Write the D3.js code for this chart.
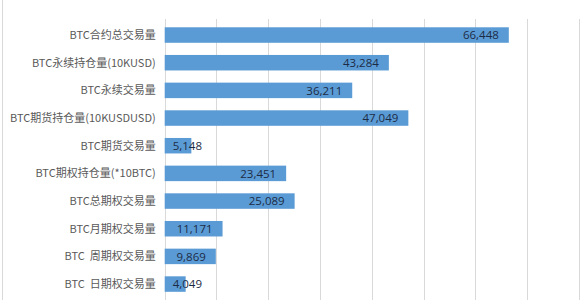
<!DOCTYPE html>
<html>
<head>
<meta charset="utf-8">
<script src="https://cdn.jsdelivr.net/npm/d3@7"></script>
<style>
  html, body { margin: 0; padding: 0; background: #fff; }
  svg { display: block; }
</style>
</head>
<body>
<svg id="chart" width="584" height="300"></svg>
<script>
// Categories (top to bottom) and their values
const categories = [
  "BTC合约总交易量",
  "BTC永续持仓量(10KUSD)",
  "BTC永续交易量",
  "BTC期货持仓量(10KUSDUSD)",
  "BTC期货交易量",
  "BTC期权持仓量(*10BTC)",
  "BTC总期权交易量",
  "BTC月期权交易量",
  "BTC  周期权交易量",
  "BTC  日期权交易量"
];
const values = [66448, 43284, 36211, 47049, 5148, 23451, 25089, 11171, 9869, 4049];
const xTicks = [0, 10000, 20000, 30000, 40000, 50000, 60000, 70000, 80000];

const svg = d3.select("#chart");
const W = 584, H = 300;
const plotLeft = 164.7, plotRight = 579, plotTop = 21.2, plotBottom = 297.9;

// outer frame line on the left edge
svg.append("line")
  .attr("x1", 2.5).attr("x2", 2.5).attr("y1", 0).attr("y2", H)
  .attr("stroke", "#d9d9d9").attr("stroke-width", 1);

const x = d3.scaleLinear().domain([0, 80000]).range([plotLeft, plotRight]);
const y = d3.scaleBand().domain(categories).range([plotTop, plotBottom])
  .paddingInner(0.44).paddingOuter(0.22);

// vertical gridlines
svg.append("g")
  .selectAll("line")
  .data(xTicks)
  .join("line")
  .attr("x1", d => Math.round(x(d)) + 0.5)
  .attr("x2", d => Math.round(x(d)) + 0.5)
  .attr("y1", 19)
  .attr("y2", H)
  .attr("stroke", "#d9d9d9")
  .attr("stroke-width", 1);

// bars
svg.append("g")
  .selectAll("rect")
  .data(values)
  .join("rect")
  .attr("x", x(0))
  .attr("y", (d, i) => y(categories[i]))
  .attr("width", d => x(d) - x(0))
  .attr("height", y.bandwidth())
  .attr("fill", "#5b9bd5");

// category axis labels
const yAxis = d3.axisLeft(y).tickSize(0).tickPadding(9);
const gy = svg.append("g").attr("transform", `translate(${plotLeft},0)`).call(yAxis);
gy.select(".domain").remove();
gy.selectAll("text")
  .attr("fill", "#595959")
  .style("font-family", "'Noto Sans CJK SC', 'Noto Sans', sans-serif")
  .style("font-size", "11px")
  .attr("dy", "0.35em")
  .style("white-space", "pre");

// value labels: inside the bar end, clamped near the bar start
const fmt = d3.format(",");
const labels = svg.append("g")
  .selectAll("text")
  .data(values)
  .join("text")
  .attr("y", (d, i) => y(categories[i]) + y.bandwidth() / 2)
  .attr("dy", "0.36em")
  .attr("fill", "#1c2b45")
  .style("font-family", "'Open Sans', 'DejaVu Sans', sans-serif")
  .style("font-size", "11.5px")
  .text(d => fmt(d));

labels.each(function(d) {
  const w = this.getComputedTextLength();
  let start = x(d) - 10 - w;
  if (start < x(0) + 8) start = x(0) + 8;
  d3.select(this).attr("x", start);
});
</script>
</body>
</html>
